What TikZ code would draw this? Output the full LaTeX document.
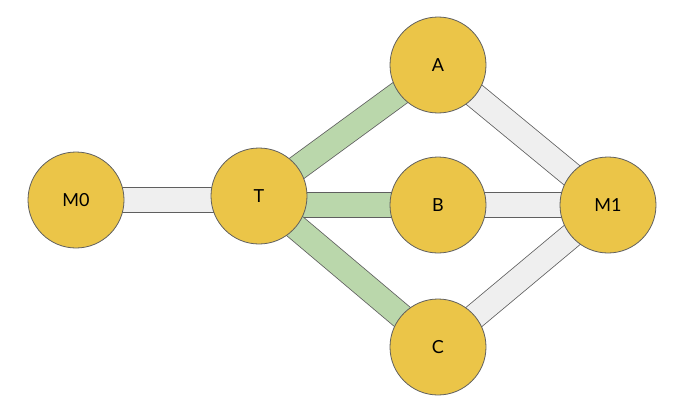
\documentclass[tikz,border=0pt]{standalone}
\usepackage{fontspec}
\setmainfont{Lato}
\usetikzlibrary{backgrounds}
\definecolor{nodefill}{HTML}{EBC548}
\definecolor{linegray}{HTML}{EFEFEF}
\definecolor{linegreen}{HTML}{BAD7AB}
\definecolor{rimgray}{HTML}{5F5F5F}

\begin{document}
\begin{tikzpicture}[x=1pt,y=-1pt,
  station/.style={circle, draw=rimgray, line width=0.8pt, fill=nodefill,
    minimum size=96pt, inner sep=0pt, font=\fontsize{18}{22}\selectfont},
  link/.style={draw=rimgray, line width=0.8pt, double=#1, double distance=24pt},
  link/.default=linegray]
\useasboundingbox (0,0) rectangle (690,412);
% Stazioni
\node[station] (M0) at (76,200) {M0};
\node[station] (T) at (259,196) {T};
\node[station] (A) at (438,65) {A};
\node[station] (B) at (438,205) {B};
\node[station] (C) at (438,347) {C};
\node[station] (M1) at (608,205) {M1};
% Collegamenti
\begin{pgfonlayer}{background}
\draw[link] (M0.center) -- (M0.center -| T.center);
\draw[link=linegreen] (T.center) -- (A.center);
\draw[link=linegreen] (T.center |- B.center) -- (B.center);
\draw[link=linegreen] (T.center) -- (C.center);
\draw[link] (A.center) -- (M1.center);
\draw[link] (B.center) -- (M1.center);
\draw[link] (C.center) -- (M1.center);
\end{pgfonlayer}
\end{tikzpicture}
\end{document}
